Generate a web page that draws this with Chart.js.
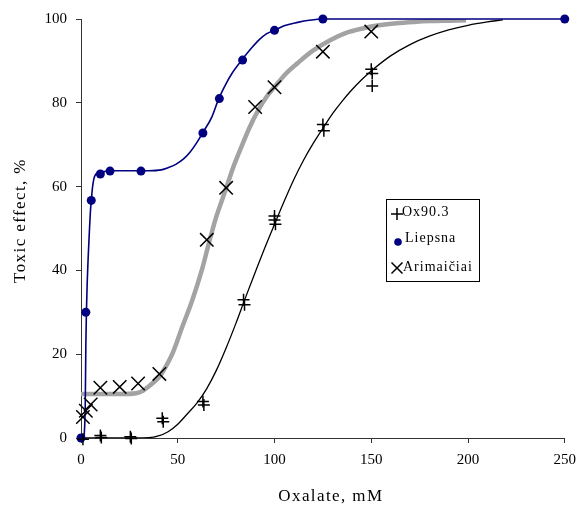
<!DOCTYPE html>
<html>
<head>
<meta charset="utf-8">
<script src="https://cdn.jsdelivr.net/npm/chart.js@4/dist/chart.umd.min.js"></script>
<style>
  html, body { margin: 0; padding: 0; background: #ffffff; }
  #c { display: block; }
</style>
</head>
<body>
<canvas id="c" width="584" height="505"></canvas>
<script>
// ---- Data ----
const xTicks = [0, 50, 100, 150, 200, 250];
const yTicks = [0, 20, 40, 60, 80, 100];

const seriesNames = ['Ox90.3', 'Liepsna', 'Arimaičiai'];

// Ox90.3 (replicate measurements, "+" markers)
const oxX = [1, 10, 10.5, 25.5, 26, 42, 42.5, 63, 63.5, 84, 84.5, 100, 100, 100.5, 125, 125.5, 150, 150.5, 150.5];
const oxY = [-0.3, 0.6, 0.1, 0.3, -0.1, 4.7, 3.9, 8.7, 7.9, 33, 31.8, 53, 52, 51, 74.8, 73.3, 88, 87, 84];

// Liepsna (navy dots)
const lpX = [0, 2.5, 5.3, 10, 15, 31, 63, 71.5, 83.5, 100, 125, 250];
const lpY = [0, 30, 56.7, 63, 63.7, 63.7, 72.8, 81, 90.2, 97.3, 100, 100];

// Arimaičiai ("x" markers)
const arX = [1, 2.5, 5, 10, 20, 29.5, 40.5, 65, 75, 90, 100, 125, 150];
const arY = [5, 6.5, 8, 12, 12.2, 13, 15.3, 47.3, 59.7, 79, 83.7, 92.2, 97];

// Fitted curves
const oxFitX = [0, 20, 35, 40, 45, 50, 55, 60, 65, 70, 75, 80, 85, 90, 95, 100, 105, 110, 115, 120, 125, 130, 135, 140, 145, 150, 160, 170, 180, 190, 200, 210, 218];
const oxFitY = [0, 0, 0.1, 0.5, 1.5, 3.3, 5.8, 8.4, 11.8, 16.2, 21.5, 27.3, 33.5, 39.5, 45.4, 51, 56.5, 61.7, 66.3, 70.3, 73.9, 77.4, 80.4, 83.1, 85.5, 87.6, 91.2, 93.9, 95.9, 97.4, 98.5, 99.3, 99.8];

const lpFitX = [1.6, 2.2, 2.5, 2.8, 3.2, 3.7, 4.3, 4.8, 5.3, 6, 7, 9, 12, 15, 25, 35, 41.5, 45, 49, 53, 56, 60, 62.7, 67.6, 71.2, 75, 78, 83.1, 88, 92, 96, 100.2, 105, 112, 118, 125, 250];
const lpFitY = [0, 8, 22, 30, 37, 43, 49, 53.6, 56.6, 60, 62.4, 63.3, 63.6, 63.8, 63.8, 63.8, 64, 64.5, 65.3, 66.6, 68, 70.6, 72.7, 76.6, 81, 84.6, 87, 90.2, 93, 95, 96.5, 97.3, 98.4, 99.2, 99.7, 100, 100];

const arFitX = [0, 10, 20, 28.5, 32, 35.3, 38, 40.5, 43.5, 47.3, 52.4, 57.5, 62.7, 66.1, 69.5, 72.9, 76, 79, 83.1, 87, 91.7, 96, 100.2, 106, 112, 120, 129, 137, 146, 154, 163, 172, 181, 190, 199];
const arFitY = [10.5, 10.5, 10.5, 10.7, 11.3, 12.4, 13.5, 14.6, 16.8, 20.2, 26.6, 32.9, 40.5, 46.5, 52.2, 56.8, 61, 65, 69.7, 74, 78.3, 81.5, 83.9, 87, 89.5, 92.5, 95, 96.7, 97.8, 98.5, 99, 99.3, 99.5, 99.6, 99.7];

const toPts = (xs, ys) => xs.map((x, i) => ({ x: x, y: ys[i] }));

const SERIF = "'Liberation Serif', 'Times New Roman', serif";
const NAVY = '#000080';
const GRAY = '#a3a3a3';

// Axis titles in the original are slightly letter-spaced and offset
const titleSpacing = {
  id: 'titleSpacing',
  afterLayout(chart) {
    const shifts = { x: [8, 2], y: [0, -8] };
    for (const id of ['x', 'y']) {
      const s = chart.scales[id];
      if (!s || s._lsPatched) continue;
      const orig = s.drawTitle.bind(s);
      s.drawTitle = function () {
        const ctx = this.ctx;
        ctx.save();
        ctx.letterSpacing = '1.4px';
        ctx.translate(shifts[id][0], shifts[id][1]);
        orig();
        ctx.restore();
      };
      s._lsPatched = true;
    }
  }
};

// Legend drawn inside the plot area (like the original)
const boxLegend = {
  id: 'boxLegend',
  afterDatasetsDraw(chart) {
    const ctx = chart.ctx;
    const ca = chart.chartArea;
    const bx = ca.left + 305, by = ca.top + 180, bw = 93, bh = 82;
    ctx.save();
    ctx.fillStyle = '#ffffff';
    ctx.fillRect(bx, by, bw, bh);
    ctx.strokeStyle = '#000000';
    ctx.lineWidth = 1;
    ctx.strokeRect(bx + 0.5, by + 0.5, bw, bh);
    const rows = [by + 15, by + 41, by + 69];
    const mx = bx + 11;
    ctx.lineWidth = 1.5;
    ctx.strokeStyle = '#000';
    // plus
    ctx.beginPath();
    ctx.moveTo(mx - 6, rows[0]); ctx.lineTo(mx + 6, rows[0]);
    ctx.moveTo(mx, rows[0] - 6); ctx.lineTo(mx, rows[0] + 6);
    ctx.stroke();
    // dot
    ctx.fillStyle = NAVY;
    ctx.beginPath();
    ctx.arc(mx + 1, rows[1] + 2, 3.8, 0, Math.PI * 2);
    ctx.fill();
    // cross
    ctx.beginPath();
    ctx.moveTo(mx - 5.5, rows[2] - 5.5); ctx.lineTo(mx + 5.5, rows[2] + 5.5);
    ctx.moveTo(mx + 5.5, rows[2] - 5.5); ctx.lineTo(mx - 5.5, rows[2] + 5.5);
    ctx.stroke();
    ctx.fillStyle = '#000';
    ctx.font = '14px ' + SERIF;
    ctx.letterSpacing = '1px';
    ctx.textBaseline = 'middle';
    ctx.textAlign = 'left';
    ctx.fillText(seriesNames[0], mx + 5, rows[0] - 2);
    ctx.fillText(seriesNames[1], mx + 8, rows[1] - 2);
    ctx.fillText(seriesNames[2], mx + 6, rows[2] - 1);
    ctx.restore();
  }
};

new Chart(document.getElementById('c'), {
  type: 'scatter',
  data: {
    datasets: [
      { label: seriesNames[0], data: toPts(oxX, oxY), pointStyle: 'cross', pointRadius: 6,
        borderColor: '#000', backgroundColor: '#000', pointBorderWidth: 1.5, showLine: false, clip: false, order: 0 },
      { label: seriesNames[1], data: toPts(lpX, lpY), pointStyle: 'circle', pointRadius: 4.5,
        borderColor: NAVY, backgroundColor: NAVY, pointBorderWidth: 0, showLine: false, clip: false, order: 0 },
      { label: seriesNames[2], data: toPts(arX, arY), pointStyle: 'crossRot', pointRadius: 9.5,
        borderColor: '#000', backgroundColor: '#000', pointBorderWidth: 1.5, showLine: false, clip: false, order: 0 },
      { label: 'fit ' + seriesNames[0], data: toPts(oxFitX, oxFitY), showLine: true, pointRadius: 0,
        borderColor: '#000', borderWidth: 1.3, cubicInterpolationMode: 'monotone', order: 2 },
      { label: 'fit ' + seriesNames[1], data: toPts(lpFitX, lpFitY), showLine: true, pointRadius: 0,
        borderColor: NAVY, borderWidth: 1.6, cubicInterpolationMode: 'monotone', order: 1, clip: false },
      { label: 'fit ' + seriesNames[2], data: toPts(arFitX, arFitY), showLine: true, pointRadius: 0,
        borderColor: GRAY, borderWidth: 4.5, cubicInterpolationMode: 'monotone', order: 3 }
    ]
  },
  options: {
    responsive: false,
    animation: false,
    layout: { padding: { left: 0, right: 15, top: 19, bottom: 0 } },
    plugins: { legend: { display: false }, tooltip: { enabled: false } },
    scales: {
      x: {
        type: 'linear', min: 0, max: 250,
        afterBuildTicks(s) { s.ticks = xTicks.map(v => ({ value: v })); },
        ticks: { color: '#000', font: { family: SERIF, size: 15 }, padding: 8, maxRotation: 0 },
        grid: { drawOnChartArea: false, drawTicks: true, tickLength: 5, color: '#333' },
        border: { display: true, color: '#333' },
        title: { display: true, text: 'Oxalate, mM', color: '#000', font: { family: SERIF, size: 17 }, padding: 0 },
        afterFit(s) { s.height = 67; }
      },
      y: {
        type: 'linear', min: 0, max: 100,
        afterBuildTicks(s) { s.ticks = yTicks.map(v => ({ value: v })); },
        ticks: { color: '#000', font: { family: SERIF, size: 15 }, padding: 9 },
        grid: { drawOnChartArea: false, drawTicks: true, tickLength: 5, color: '#333' },
        border: { display: true, color: '#333' },
        title: { display: true, text: 'Toxic effect, %', color: '#000', font: { family: SERIF, size: 17 }, padding: 10 },
        afterFit(s) { s.width = 81; }
      }
    }
  },
  plugins: [titleSpacing, boxLegend]
});
</script>
</body>
</html>
